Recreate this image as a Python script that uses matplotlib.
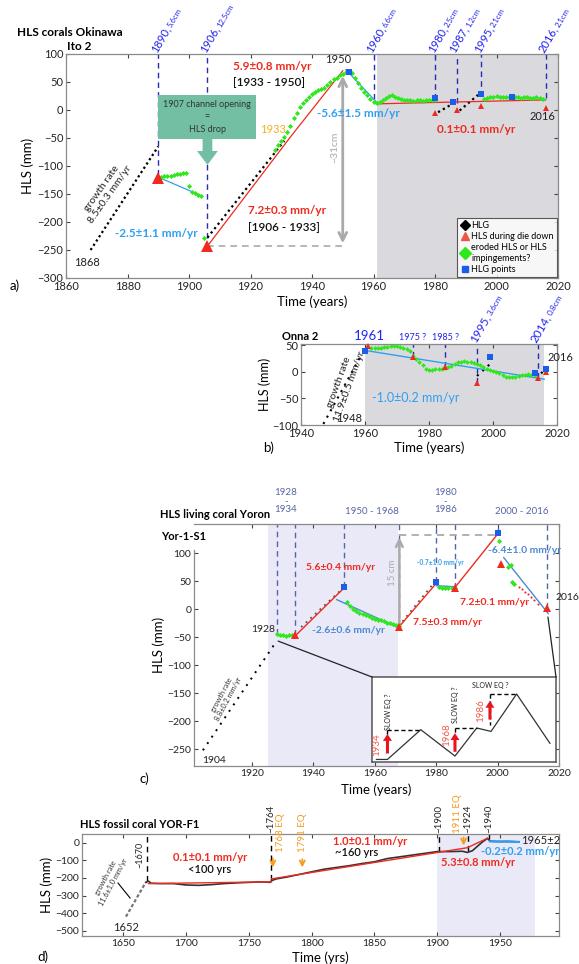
import matplotlib
matplotlib.use('Agg')
import matplotlib.pyplot as plt
from matplotlib.lines import Line2D
from matplotlib.patches import ConnectionPatch

plt.rcParams['font.family'] = ['Lato', 'DejaVu Sans']

W, H = 579, 964

RED = '#f02a1e'
GREEN = '#2ee81c'
LBLUE = '#2fa0f0'
BLUE = '#1d5ee8'
NAVY = '#2b2bb5'
SLATE = '#5566a6'
STEEL = '#4a8ad4'
ORANGE = '#f59a1e'
GREYSHADE = '#d9d9de'
LAVENDER = '#e9e9f7'

# ---------------- a) Ito 2 ----------------
a_growth_yr = [1868, 1890]
a_growth_hls = [-250, -65]
a_hlg_yr = [[1906, 1931], [1981, 1986], [1988, 1994]]
a_hlg_hls = [[-228, -55], [-4, 12], [-1, 27]]
a_green_yr = [1891, 1892, 1893, 1894, 1895, 1896, 1897, 1898, 1899, 1900, 1901, 1902, 1903, 1904, 1905,
              1928, 1929, 1930, 1931, 1932, 1933, 1934, 1935, 1936, 1937, 1938, 1939, 1940, 1941, 1942,
              1943, 1944, 1945, 1946, 1947, 1948, 1949, 1950, 1951, 1952, 1953, 1954, 1955, 1956, 1957,
              1958, 1959, 1960, 1961, 1962, 1963, 1964, 1965, 1966, 1967, 1968, 1969, 1970, 1971, 1972,
              1973, 1974, 1975, 1976, 1977, 1978, 1979, 1980, 1996, 1997, 1998, 1999, 2000, 2001, 2002,
              2003, 2004, 2005, 2006, 2007, 2008, 2009, 2010, 2011, 2012, 2013, 2014, 2015]
a_green_hls = [-119, -118, -117, -117, -116, -115, -114, -113, -112, -136, -146, -148, -151, -154, -229,
               -72, -62, -55, -48, -40, -28, -15, -5, 5, 12, 18, 24, 28, 32, 35,
               38, 40, 44, 50, 55, 58, 62, 65, 67, 68, 66, 58, 48, 40, 33,
               27, 20, 15, 12, 14, 17, 22, 25, 27, 24, 21, 19, 18, 17, 17,
               16, 17, 17, 16, 17, 17, 18, 18, 20, 22, 24, 24, 25, 24, 24,
               23, 24, 25, 24, 23, 22, 24, 23, 22, 22, 23, 21, 20]
a_red_seg_yr = [[1906, 1933, 1950], [1961, 2016]]
a_red_seg_hls = [[-243, -48, 70], [11, 18]]
a_blue_seg_yr = [[1890, 1904], [1951, 1961]]
a_blue_seg_hls = [[-120, -153], [72, 14]]
a_tri_yr = [1890, 1906, 1980, 1987, 1995, 2016]
a_tri_hls = [-121, -243, -6, 0, 8, 3]
a_tri_size = [8, 8, 4, 4, 4, 4]
a_sq_yr = [1952, 1980, 1986, 1995, 2005]
a_sq_hls = [68, 22, 14, 28, 24]
a_mark_yr = [1890, 1906, 1960, 1980, 1987, 1995, 2016]
a_mark_hls = [-116, -229, 19, 20, 13, 25, 21]
a_mark_cm = ['5.6cm', '12.5cm', '6.6cm', '2.5cm', '1.2cm', '2.1cm', '2.1cm']

# ---------------- b) Onna 2 ----------------
b_growth_yr = [1947, 1959]
b_growth_hls = [-98, 33]
b_hlg_yr = [[1995, 1999], [2015, 2016]]
b_hlg_hls = [[-8, 14], [-3, 2]]
b_green_yr = list(range(1962, 2014))
b_green_hls = [44, 45, 44, 45, 46, 47, 48, 49, 48, 47, 45, 42, 38, 30, 24, 18, 12, 6, 4, 4,
               5, 6, 6, 7, 8, 10, 14, 18, 19, 20, 19, 18, 17, 15, 12, 9, 6, 3, 2, 0,
               -3, -7, -10, -10, -10, -9, -8, -7, -6, -5, -6, -7]
b_blue_yr = [1960, 2016]
b_blue_hls = [40, -14]
b_tri_yr = [1961, 1975, 1985, 1995, 2014, 2016.5]
b_tri_hls = [48, 27, 8, -22, -12, -1]
b_sq_yr = [1960, 1999, 2013, 2016.5]
b_sq_hls = [38, 28, -3, 5]
b_mark_yr = [1975, 1985, 1995, 2014]
b_mark_hls = [27, 8, -22, -12]

# ---------------- c) Yor-1-S1 ----------------
c_growth_yr = [1904, 1928]
c_growth_hls = [-252, -57]
c_hlg_yr = [[1936, 1949], [1969, 1979]]
c_hlg_hls = [[-32, 34], [-22, 45]]
c_green_yr = [1928, 1929, 1930, 1931, 1932, 1933, 1951, 1952, 1953, 1954, 1955, 1956, 1957, 1958,
              1959, 1960, 1961, 1962, 1963, 1964, 1965, 1966, 1967, 1968, 1981, 1982, 1983, 1984,
              1985, 1986, 2000.3, 2003.5, 2004.3, 2004.6, 2005.2]
c_green_hls = [-45, -47, -46, -48, -47, -47, 12, 6, 0, -4, -6, -9, -11, -13,
               -15, -17, -19, -20, -22, -24, -25, -27, -28, -30, 40, 38, 37, 37,
               37, 38, 122, 76, 78, 49, 45]
c_reddot_yr = [2007, 2008, 2009, 2010, 2011, 2012, 2013]
c_reddot_hls = [40, 36, 31, 27, 22, 16, 10]
c_red_seg_yr = [[1934, 1950], [1968, 1980], [1986, 2000]]
c_red_seg_hls = [[-48, 38], [-31, 46], [38, 134]]
c_blue_seg_yr = [[1947.6, 1968], [1980, 1986], [2002, 2016.5]]
c_blue_seg_hls = [[17, -34], [42, 40], [92, -8]]
c_tri_yr = [1934, 1968, 1986, 2001, 2016]
c_tri_hls = [-47, -31, 38, 81, 2]
c_sq_yr = [1950, 1980, 2000]
c_sq_hls = [40, 48, 136]
c_mark_yr = [1928, 1934, 1950, 1968, 1980, 1986, 2000, 2016]
c_mark_hls = [-45, -47, 40, -31, 48, 38, 136, 2]
# inset sketch (fraction of inset box)
inset_x = [0.024, 0.084, 0.265, 0.451, 0.569, 0.647, 0.786, 0.967]
inset_y = [0.03, 0.03, 0.38, 0.07, 0.40, 0.36, 0.80, 0.22]

# ---------------- d) YOR-F1 ----------------
d_growth_yr = [1652, 1668]
d_growth_hls = [-420, -222]
d_hls_yr = [1668, 1670, 1672, 1680, 1690, 1700, 1710, 1720, 1730, 1740, 1750, 1760, 1767, 1768,
            1772, 1780, 1790, 1800, 1810, 1820, 1830, 1840, 1850, 1860, 1870, 1880, 1890, 1900,
            1910, 1920, 1924, 1928, 1932, 1936, 1940, 1942, 1945, 1950, 1955, 1960, 1965]
d_hls = [-225, -218, -230, -232, -232, -240, -242, -238, -232, -228, -225, -222, -225, -215,
         -205, -195, -180, -165, -150, -140, -130, -118, -108, -90, -80, -70, -60, -50,
         -50, -48, -55, -45, -20, 5, 25, 10, 8, 7, 8, 7, 5]
d_red_seg_yr = [[1670, 1768], [1768, 1924, 1940]]
d_red_seg_hls = [[-232, -222], [-205, -28, 26]]
d_blue_yr = [1942, 1965]
d_blue_hls = [8, 5]
d_mark_yr = [1668.6, 1767.7, 1901.5, 1924.5, 1941.5]
d_mark_hls = [-218, -212, -50, -45, 20]
d_mark_lab = ['~1764', '~1900', '~1924', '~1940']
d_eq_yr = [1769, 1792.5, 1921]
d_eq_lab = ['1768 EQ', '1791 EQ', '1911 EQ']


def box(l, t, r, b):
    return [l / W, 1 - b / H, (r - l) / W, (b - t) / H]


def style(ax):
    for sp in ax.spines.values():
        sp.set_color('#8a8a8a')
        sp.set_linewidth(0.9)
    ax.tick_params(direction='in', top=True, right=True, length=3, width=0.8,
                   color='#444444', labelsize=8, labelcolor='#222222', pad=2)


def slanted(ax, x, year, cm, color, fs1, fs2):
    # year in big type, thickness in small type, both at 60 deg above the line top
    tr = ax.get_xaxis_transform()
    ax.annotate(year + ',', xy=(x, 1), xycoords=tr, xytext=(-1, 0.5), textcoords='offset points',
                rotation=60, rotation_mode='anchor', ha='left', va='baseline',
                fontsize=fs1, color=color, annotation_clip=False)
    off = fs1 * 2.55 + 1
    ax.annotate(cm, xy=(x, 1), xycoords=tr, xytext=(-1 + off * 0.5, 0.5 + off * 0.866),
                textcoords='offset points', rotation=60, rotation_mode='anchor',
                ha='left', va='baseline', fontsize=fs2, color=color, annotation_clip=False)


fig = plt.figure(figsize=(W / 100, H / 100), dpi=100)

# ======================= a =======================
ax = fig.add_axes(box(66, 54, 558, 278))
style(ax)
ax.set_xlim(1860, 2020)
ax.set_ylim(-300, 100)
ax.set_xticks(range(1860, 2021, 20))
ax.set_yticks(range(-300, 101, 50))
ax.axvspan(1961.3, 2020, color=GREYSHADE, lw=0, zorder=0)
ax.set_xlabel('Time (years)', fontsize=9.5, labelpad=3)
ax.set_ylabel('HLS (mm)', fontsize=9.5, labelpad=2)

for x, yb in zip(a_mark_yr, a_mark_hls):
    ax.plot([x, x], [yb, 100], color=NAVY, lw=1, dashes=(4, 3), zorder=2)
for x, cm in zip(a_mark_yr, a_mark_cm):
    slanted(ax, x, str(x), cm, '#2222ee', 8, 5.6)

ax.plot(a_growth_yr, a_growth_hls, color='k', lw=1.6, ls=(0, (1, 1.3)), zorder=3)
for xs, ys in zip(a_hlg_yr, a_hlg_hls):
    ax.plot(xs, ys, color='k', lw=1.6, ls=(0, (1, 1.5)), zorder=3)
for xs, ys in zip(a_red_seg_yr, a_red_seg_hls):
    ax.plot(xs, ys, color=RED, lw=0.9, zorder=4)
for xs, ys in zip(a_blue_seg_yr, a_blue_seg_hls):
    ax.plot(xs, ys, color=LBLUE, lw=0.9, zorder=4)
ax.plot(a_green_yr, a_green_hls, 'D', color=GREEN, ms=2.6, mew=0, zorder=5)
for x, y, s in zip(a_tri_yr, a_tri_hls, a_tri_size):
    ax.plot(x, y, '^', color=RED, ms=s, mew=0, zorder=6)
ax.plot(a_sq_yr, a_sq_hls, 's', color=BLUE, ms=4.5, mew=0, zorder=6)

ax.plot([1906, 1950], [-243, -243], color='#aaaaaa', lw=1.2, dashes=(4, 3), zorder=2)
ax.annotate('', xy=(1950, 66), xytext=(1950, -243),
            arrowprops=dict(arrowstyle='<->', color='#aaaaaa', lw=2, mutation_scale=14))
ax.text(1947.6, -66, '~31cm', rotation=90, color='#aaaaaa', fontsize=7.5, ha='center', va='center')

ax.text(1905.9, -12, '1907 channel opening\n=\nHLS drop', fontsize=6.5, color='#333333',
        ha='center', va='center', linespacing=1.5, zorder=7,
        bbox=dict(boxstyle='square,pad=0.55', fc='#73bfa3', ec='none'))
ax.annotate('', xy=(1906, -98), xytext=(1906, -46),
            arrowprops=dict(width=7, headwidth=15, headlength=10, color='#73bfa3', lw=0), zorder=7)

ax.text(1948.5, 91, '1950', fontsize=8, ha='center', va='center', color='#222222')
ax.text(1914.3, 77, '5.9±0.8 mm/yr', fontsize=8.5, color=RED, fontweight='bold', va='center')
ax.text(1914.3, 50, '[1933 - 1950]', fontsize=8.5, color='#111111', fontweight='semibold', va='center')
ax.text(1923, -34, '1933', fontsize=8, color='#f5b020', va='center')
ax.text(1919.2, -180, '7.2±0.3 mm/yr', fontsize=8.5, color=RED, fontweight='bold', va='center')
ax.text(1919.2, -209, '[1906 - 1933]', fontsize=8.5, color='#111111', fontweight='semibold', va='center')
ax.text(1941.6, -7, '-5.6±1.5 mm/yr', fontsize=8.5, color=LBLUE, fontweight='bold', va='center')
ax.text(1980.7, -34, '0.1±0.1 mm/yr', fontsize=8.5, color=RED, fontweight='bold', va='center')
ax.text(2015.1, -12, '2016', fontsize=8, ha='center', va='center', color='#222222')
ax.text(1876, -221, '-2.5±1.1 mm/yr', fontsize=8.5, color=LBLUE, fontweight='bold', va='center')
ax.text(1862.6, -273, '1868', fontsize=8, va='center', color='#222222')
ax.text(1873, -145, 'growth rate\n8.5±0.3 mm/yr', fontsize=7.5, rotation=55, ha='center',
        va='center', color='#222222', rotation_mode='anchor')

handles = [Line2D([], [], marker='D', color='k', ls='', ms=5),
           Line2D([], [], marker='^', color='#ee5544', ls='', ms=6),
           Line2D([], [], marker='D', color=GREEN, ls='', ms=6),
           Line2D([], [], marker='s', color=BLUE, ls='', ms=5)]
leg = ax.legend(handles, ['HLG', 'HLS during die down', 'eroded HLS or HLS\nimpingements?', 'HLG points'],
                loc='lower right', fontsize=6.5, frameon=True, fancybox=False, borderaxespad=0.15,
                handletextpad=0.1, handlelength=1.2, labelspacing=0.25, borderpad=0.3)
leg.get_frame().set_edgecolor('#333333')
leg.get_frame().set_linewidth(0.8)

fig.text(17 / W, 1 - 32 / H, 'HLS corals Okinawa', fontsize=8.5, fontweight='bold', va='center')
fig.text(67 / W, 1 - 46 / H, 'Ito 2', fontsize=8.5, fontweight='bold', va='center')
fig.text(10 / W, 1 - 286 / H, 'a)', fontsize=9.5, va='center')

# ======================= b =======================
ax = fig.add_axes(box(301, 344, 557, 425))
style(ax)
ax.set_xlim(1940, 2020)
ax.set_ylim(-100, 52)
ax.set_xticks(range(1940, 2021, 20))
ax.set_yticks([-100, -50, 0, 50])
ax.axvspan(1960, 2016, color=GREYSHADE, lw=0, zorder=0)
ax.set_xlabel('Time (years)', fontsize=9.5, labelpad=2)
ax.set_ylabel('HLS (mm)', fontsize=9, labelpad=1)

for x, yb in zip(b_mark_yr, b_mark_hls):
    ax.plot([x, x], [yb, 52], color=NAVY, lw=1, dashes=(4, 3), zorder=2)
ax.plot(b_growth_yr, b_growth_hls, color='k', lw=1.5, ls=(0, (1, 2.5)), zorder=3)
for xs, ys in zip(b_hlg_yr, b_hlg_hls):
    ax.plot(xs, ys, color='k', lw=1.5, ls=(0, (1, 2.5)), zorder=3)
ax.plot(b_blue_yr, b_blue_hls, color=LBLUE, lw=1, zorder=4)
ax.plot(b_green_yr, b_green_hls, 'D', color=GREEN, ms=2.4, mew=0, zorder=5)
ax.plot(b_tri_yr, b_tri_hls, '^', color=RED, ms=5, mew=0, zorder=6, clip_on=False)
ax.plot(b_sq_yr, b_sq_hls, 's', color=BLUE, ms=4.5, mew=0, zorder=6, clip_on=False)

tr = ax.get_xaxis_transform()
ax.text(1961.5, 1.03, '1961', transform=tr, fontsize=9.5, color='#2222ee', ha='center', va='bottom')
ax.text(1975, 1.03, '1975 ?', transform=tr, fontsize=6.5, color='#2222ee', ha='center', va='bottom')
ax.text(1985, 1.03, '1985 ?', transform=tr, fontsize=6.5, color='#2222ee', ha='center', va='bottom')
slanted(ax, 1995, '1995', '3.6cm', '#2222ee', 8.5, 6)
slanted(ax, 2014, '2014', '0.8cm', '#2222ee', 8.5, 6)
ax.text(2017, 27, '2016', fontsize=8, va='center', color='#222222')
ax.text(1951, -88, '1948', fontsize=8, va='center', color='#222222')
ax.text(1953.5, -24, 'growth rate\n11.9±0.5 mm/yr', fontsize=7.5, rotation=70, ha='center',
        va='center', rotation_mode='anchor', color='#222222')
ax.text(1976, -50, '-1.0±0.2 mm/yr', fontsize=9, color=LBLUE, va='center', ha='center')

fig.text(282 / W, 1 - 336 / H, 'Onna 2', fontsize=8, fontweight='bold', va='center')
fig.text(263 / W, 1 - 448 / H, 'b)', fontsize=9.5, va='center')

# ======================= c =======================
axc = fig.add_axes(box(194, 524, 559, 766))
ax = axc
style(ax)
ax.set_xlim(1901.1, 2020)
ax.set_ylim(-280, 152)
ax.set_xticks(range(1920, 2021, 20))
ax.set_yticks(range(-250, 101, 50))
ax.tick_params(labelsize=7.5)
ax.spines['left'].set_bounds(-280, 105)
ax.axvspan(1925.3, 1967.6, color=LAVENDER, lw=0, zorder=0)
ax.set_xlabel('Time (years)', fontsize=9.5, labelpad=4)
ax.set_ylabel('HLS (mm)', fontsize=9.5, labelpad=2)

for x, yb in zip(c_mark_yr, c_mark_hls):
    ax.plot([x, x], [yb, 152], color=SLATE, lw=1, dashes=(4, 3), zorder=2)
ax.plot(c_growth_yr, c_growth_hls, color='k', lw=1.4, ls=(0, (1, 3)), zorder=3)
for xs, ys in zip(c_hlg_yr, c_hlg_hls):
    ax.plot(xs, ys, color='#555555', lw=1.3, ls=(0, (1, 2.5)), zorder=3)
for xs, ys in zip(c_red_seg_yr, c_red_seg_hls):
    ax.plot(xs, ys, color=RED, lw=1, zorder=4)
for xs, ys in zip(c_blue_seg_yr, c_blue_seg_hls):
    ax.plot(xs, ys, color=STEEL, lw=1, zorder=4)
ax.plot(c_green_yr, c_green_hls, 'D', color=GREEN, ms=2.6, mew=0, zorder=5)
ax.plot(c_reddot_yr, c_reddot_hls, 'o', color=RED, ms=1.5, mew=0, zorder=5)
ax.plot(c_tri_yr, c_tri_hls, '^', color=RED, ms=5.5, mew=0, zorder=6)
ax.plot(c_sq_yr, c_sq_hls, 's', color=BLUE, ms=4, mew=0, zorder=6)

ax.plot([1968, 2000], [133, 133], color='#aaaaaa', lw=1.3, dashes=(4, 3), zorder=2)
ax.annotate('', xy=(1968, 133), xytext=(1968, -31),
            arrowprops=dict(arrowstyle='->', color='#aaaaaa', lw=1.8, mutation_scale=12))
ax.text(1965.9, 64, '15 cm', rotation=90, color='#aaaaaa', fontsize=7, ha='center', va='center')

tr = ax.get_xaxis_transform()
for xc, lab in [(1931, '1928\n-\n1934'), (1983, '1980\n-\n1986')]:
    ax.annotate(lab, xy=(xc, 1), xycoords=tr, xytext=(0, 7), textcoords='offset points',
                fontsize=7, color=SLATE, ha='center', va='bottom', linespacing=0.95,
                annotation_clip=False)
for xc, lab in [(1959, '1950 - 1968'), (2008, '2000 - 2016')]:
    ax.annotate(lab, xy=(xc, 1), xycoords=tr, xytext=(0, 6), textcoords='offset points',
                fontsize=7, color=SLATE, ha='center', va='bottom', annotation_clip=False)

ax.text(1937.6, 75, '5.6±0.4 mm/yr', fontsize=7.5, color=RED, fontweight='bold', va='center')
ax.text(1939.4, -39, '-2.6±0.6 mm/yr', fontsize=7.5, color=STEEL, fontweight='bold', va='center')
ax.text(1973.6, 84, '-0.7±1.0 mm/yr', fontsize=4.8, color=LBLUE, fontweight='bold', va='center')
ax.text(1972.5, -23, '7.5±0.3 mm/yr', fontsize=7.5, color=RED, fontweight='bold', va='center')
ax.text(1997, 104, '-6.4±1.0 mm/yr', fontsize=7.5, color=STEEL, fontweight='bold', va='center')
ax.text(1987.7, 11, '7.2±0.1 mm/yr', fontsize=7.5, color=RED, fontweight='bold', va='center')
ax.text(2018.7, 21, '2016', fontsize=7.5, va='center', color='#222222', clip_on=False)
ax.text(1927.5, -37, '1928', fontsize=7.5, va='center', ha='right', color='#222222')
ax.text(1903.6, -270, '1904', fontsize=7.5, va='center', color='#222222')
ax.text(1911.2, -157, 'growth rate\n8.8±0.2 mm/yr', fontsize=5.3, rotation=62, ha='center',
        va='center', rotation_mode='anchor', color='#333333')

ins = fig.add_axes(box(372, 677, 556, 762))
ins.set_xlim(0, 1)
ins.set_ylim(0, 1)
ins.set_xticks([])
ins.set_yticks([])
for sp in ins.spines.values():
    sp.set_color('#555555')
    sp.set_linewidth(1.1)
ins.plot(inset_x, inset_y, color='#333333', lw=0.9)
ins.plot([0.084, 0.265], [0.38, 0.38], color='k', lw=1, dashes=(3, 2))
ins.plot([0.084, 0.084], [0.38, 0.32], color='k', lw=1, dashes=(3, 2))
ins.plot([0.451, 0.569], [0.40, 0.40], color='k', lw=1, dashes=(3, 2))
ins.plot([0.451, 0.451], [0.40, 0.33], color='k', lw=1, dashes=(3, 2))
ins.plot([0.641, 0.786], [0.80, 0.80], color='k', lw=1, dashes=(3, 2))
ins.plot([0.641, 0.641], [0.80, 0.44], color='k', lw=1, dashes=(3, 2))
for xa, y0, y1 in [(0.084, 0.10, 0.33), (0.451, 0.12, 0.34), (0.641, 0.50, 0.72)]:
    ins.annotate('', xy=(xa, y1), xytext=(xa, y0),
                 arrowprops=dict(width=2.2, headwidth=6.5, headlength=5, color='#e8141e', lw=0))
ins.text(0.026, 0.20, '1934', rotation=90, fontsize=7, color='#f05a46', ha='center', va='center')
ins.text(0.405, 0.32, '1968', rotation=90, fontsize=7, color='#f05a46', ha='center', va='center')
ins.text(0.592, 0.61, '1986', rotation=90, fontsize=7, color='#f05a46', ha='center', va='center')
ins.text(0.090, 0.59, 'SLOW EQ ?', rotation=90, fontsize=5, color='#222222', ha='center', va='center')
ins.text(0.452, 0.67, 'SLOW EQ ?', rotation=90, fontsize=5, color='#222222', ha='center', va='center')
ins.text(0.64, 0.905, 'SLOW EQ ?', fontsize=5, color='#222222', ha='center', va='center')

for xy, corner in [((1928.5, -57), (0, 1)), ((2016.4, -14), (1, 1))]:
    con = ConnectionPatch(xyA=xy, coordsA=axc.transData, xyB=corner, coordsB=ins.transAxes,
                          color='#222222', lw=0.9)
    fig.add_artist(con)

fig.text(160 / W, 1 - 514 / H, 'HLS living coral Yoron', fontsize=8, fontweight='bold', va='center')
fig.text(161 / W, 1 - 536 / H, 'Yor-1-S1', fontsize=8, fontweight='bold', va='center')
fig.text(139 / W, 1 - 779 / H, 'c)', fontsize=9.5, va='center')

# ======================= d =======================
ax = fig.add_axes(box(82, 834, 559, 936))
style(ax)
ax.set_xlim(1617, 1997)
ax.set_ylim(-530, 50)
ax.set_xticks(range(1650, 1951, 50))
ax.set_yticks(range(-500, 1, 100))
ax.tick_params(labelsize=7.5)
ax.axvspan(1900, 1978, color=LAVENDER, lw=0, zorder=0)
ax.set_xlabel('Time (yrs)', fontsize=9.5, labelpad=3)
ax.set_ylabel('HLS (mm)', fontsize=9.5, labelpad=2)

for x, yb in zip(d_mark_yr, d_mark_hls):
    ax.plot([x, x], [yb, 50], color='k', lw=1, dashes=(4, 3), zorder=2)
ax.plot(d_growth_yr, d_growth_hls, color='#777777', lw=1.6, ls=(0, (1.5, 1)), zorder=3)
ax.plot(d_hls_yr, d_hls, color='#333333', lw=1.2, zorder=3)
for xs, ys in zip(d_red_seg_yr, d_red_seg_hls):
    ax.plot(xs, ys, color=RED, lw=1, zorder=4)
ax.plot(d_blue_yr, d_blue_hls, color=LBLUE, lw=1.6, zorder=4)

tr = ax.get_xaxis_transform()
for x, lab in zip(d_mark_yr[1:], d_mark_lab):
    ax.annotate(lab, xy=(x, 1), xycoords=tr, xytext=(0, 1), textcoords='offset points',
                rotation=90, fontsize=7, ha='center', va='bottom', color='#222222',
                annotation_clip=False)
ax.text(1663, -69, '~1670', rotation=90, fontsize=6.5, ha='center', va='center', color='#222222')
for x, lab, yb in zip([1775.5, 1793, 1916.5], d_eq_lab, [-51, -51, 57]):
    ax.text(x, yb, lab, rotation=90, fontsize=7, color=ORANGE, ha='center', va='bottom',
            clip_on=False)
for x, y0, y1 in zip(d_eq_yr, [-72, -78, 46], [-156, -156, -31]):
    ax.annotate('', xy=(x, y1), xytext=(x, y0),
                arrowprops=dict(arrowstyle='->', color=ORANGE, lw=1.3, mutation_scale=9))

ax.text(1719, -86, '0.1±0.1 mm/yr', fontsize=8, color=RED, fontweight='bold', ha='center', va='center')
ax.text(1719, -154, '<100 yrs', fontsize=8, color='#111111', fontweight='semibold', ha='center', va='center')
ax.text(1846.7, 6, '1.0±0.1 mm/yr', fontsize=8, color=RED, fontweight='bold', ha='center', va='center')
ax.text(1835.5, -57, '~160 yrs', fontsize=8, color='#111111', fontweight='semibold', ha='center', va='center')
ax.text(1932.8, -114, '5.3±0.8 mm/yr', fontsize=8, color=RED, fontweight='bold', ha='center', va='center')
ax.text(1966.3, -51, '-0.2±0.2 mm/yr', fontsize=8, color=LBLUE, fontweight='bold', ha='center', va='center')
ax.text(1982, 11, '1965±2', fontsize=8, color='#222222', ha='center', va='center')
ax.text(1652, -480, '1652', fontsize=8, color='#222222', ha='center', va='center')
ax.text(1639, -211, 'growth rate\n11.6±1.0 mm/yr', fontsize=5.3, rotation=62, ha='center',
        va='center', rotation_mode='anchor', color='#333333')
ax.plot([1645.7, 1655.3], [-229, -314], color='k', lw=0.8)

fig.text(80 / W, 1 - 825 / H, 'HLS fossil coral YOR-F1', fontsize=8, fontweight='bold', va='center')
fig.text(37 / W, 1 - 957 / H, 'd)', fontsize=9.5, va='center')

fig.savefig('out.png', dpi=100)
